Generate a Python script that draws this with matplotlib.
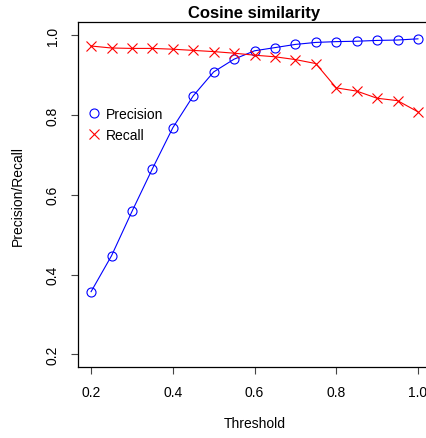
import numpy as np
from matplotlib import pyplot as plt
from matplotlib.lines import Line2D

## Data
threshold = [0.20, 0.25, 0.30, 0.35, 0.40, 0.45, 0.50, 0.55, 0.60,
             0.65, 0.70, 0.75, 0.80, 0.85, 0.90, 0.95, 1.00]
precision = [0.357, 0.447, 0.558, 0.665, 0.768, 0.848, 0.908, 0.940, 0.961,
             0.969, 0.977, 0.982, 0.984, 0.985, 0.987, 0.988, 0.991]
recall = [0.973, 0.968, 0.967, 0.967, 0.965, 0.962, 0.959, 0.955, 0.950,
          0.946, 0.939, 0.929, 0.868, 0.860, 0.842, 0.836, 0.808]

plt.rcParams['font.family'] = ['Liberation Sans', 'DejaVu Sans']

fig = plt.figure(figsize=(4.27, 4.39), dpi=100)
ax = fig.add_axes([0.1827, 0.1617, 0.8267, 0.7848])

ax.plot(threshold, precision, color='blue', lw=0.8, marker='o', ms=6.5,
        mfc='none', mec='blue', mew=0.8)
ax.plot(threshold, recall, color='red', lw=0.8, marker='x', ms=6.5,
        mec='red', mew=0.8)

## R-style 4% axis extension
ax.set_xlim(0.168, 1.032)
ax.set_ylim(0.168, 1.032)
ax.set_xticks([0.2, 0.4, 0.6, 0.8, 1.0])
ax.set_yticks([0.2, 0.4, 0.6, 0.8, 1.0])
ax.tick_params(direction='out', length=5, width=0.8, labelsize=10, color='#444444')
ax.tick_params(axis='x', pad=8)
ax.tick_params(axis='y', pad=8)
for lab in ax.get_yticklabels():
    lab.set_rotation(90)
    lab.set_va('center')
for sp in ax.spines.values():
    sp.set_linewidth(0.9)
ax.spines['right'].set_visible(False)

ax.set_title('Cosine similarity', fontsize=12, fontweight='bold', pad=4)
ax.set_xlabel('Threshold', fontsize=10, labelpad=12)
ax.set_ylabel('Precision/Recall', fontsize=10, labelpad=15)

handles = [Line2D([], [], ls='none', marker='o', ms=6.5, mfc='none', mec='blue', mew=0.8),
           Line2D([], [], ls='none', marker='x', ms=6.5, mec='red', mew=0.8)]
ax.legend(handles, ['Precision', 'Recall'], frameon=False, fontsize=10,
          loc='upper left', bbox_to_anchor=(-0.01, 0.79), handlelength=1.0,
          handletextpad=0.35, labelspacing=0.5)

fig.savefig('out.png', dpi=100)
